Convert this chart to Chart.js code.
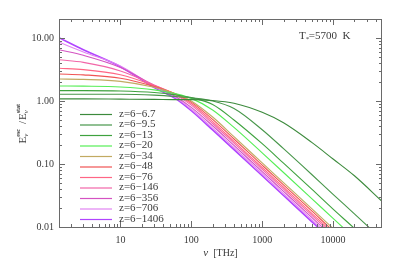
<!DOCTYPE html>
<html>
<head>
<meta charset="utf-8">
<script src="https://cdn.jsdelivr.net/npm/chart.js@4.4.1/dist/chart.umd.min.js"></script>
<style>
  html, body { margin: 0; padding: 0; background: #fff; }
  #wrap { width: 399px; height: 266px; position: relative; }
</style>
</head>
<body>
<div id="wrap"><canvas id="sed"></canvas></div>
<script>
// frequencies in THz (sample points)
const freq = [1.36, 3, 10, 30, 60, 100, 200, 400, 1000, 2000, 5000, 10000, 20000, 50000];

// E_esc / E_stat, one list per redshift range
const z6_7   = [1.08, 1.08, 1.07, 1.06, 1.05, 1.05, 1.02, 0.92, 0.66, 0.45, 0.22, 0.12, 0.065, 0.025];
const z9_5   = [1.28, 1.28, 1.28, 1.24, 1.18, 1.12, 1.0, 0.76, 0.35, 0.175, 0.0681, 0.0329, 0.0162, 0.0062];
const z13    = [1.46, 1.46, 1.44, 1.36, 1.25, 1.13, 0.88, 0.5, 0.21, 0.103, 0.0398, 0.0192, 0.0095, 0.0036];
const z20    = [1.73, 1.72, 1.67, 1.5, 1.3, 1.1, 0.72, 0.38, 0.15, 0.0733, 0.0283, 0.0137, 0.0067, 0.0026];
const z34    = [2.23, 2.2, 2.05, 1.65, 1.3, 1.0, 0.556, 0.271, 0.104, 0.0507, 0.0196, 0.0095, 0.0046, 0.0018];
const z48    = [2.68, 2.6, 2.3, 1.7, 1.3, 0.96, 0.511, 0.249, 0.0957, 0.0465, 0.018, 0.0087, 0.0043, 0.0016];
const z76    = [3.3, 3.15, 2.6, 1.75, 1.28, 0.91, 0.469, 0.228, 0.0879, 0.0427, 0.0165, 0.0080, 0.0039, 0.0015];
const z146   = [4.5, 4.1, 3.0, 1.8, 1.25, 0.86, 0.439, 0.214, 0.0822, 0.040, 0.0154, 0.0075, 0.0037, 0.0014];
const z356   = [6.5, 5.3, 3.4, 1.75, 1.18, 0.79, 0.404, 0.197, 0.0756, 0.0368, 0.0142, 0.0069, 0.0034, 0.0013];
const z706   = [8.6, 6.0, 3.6, 1.70, 1.13, 0.74, 0.371, 0.181, 0.070, 0.0338, 0.0131, 0.0063, 0.0031, 0.0012];
const z1406  = [10.1, 6.5, 3.5, 1.63, 1.09, 0.70, 0.347, 0.169, 0.065, 0.0316, 0.0122, 0.0059, 0.0029, 0.0011];

const labels = ["z=6\u22126.7", "z=6\u22129.5", "z=6\u221213", "z=6\u221220", "z=6\u221234", "z=6\u221248",
                "z=6\u221276", "z=6\u2212146", "z=6\u2212356", "z=6\u2212706", "z=6\u22121406"];
const series = [z6_7, z9_5, z13, z20, z34, z48, z76, z146, z356, z706, z1406];
const colors = ["#3c8a3c", "#47964a", "#3ea23e", "#55ee55", "#c2aa62", "#f05454",
                "#ff6685", "#f266a8", "#d452c2", "#e284f2", "#b044ff"];

const xTickLabels = ["10", "100", "1000", "10000"];
const yTickLabels = ["10.00", "1.00", "0.10", "0.01"];

const AXIS = "#6a6a6a";
const TXT = "#3a3a3a";
const FONT = "'Liberation Serif', serif";

var datasets = series.map(function(vals, i) {
  return {
    label: labels[i],
    data: freq.map(function(f, j) { return {x: f, y: vals[j]}; }),
    borderColor: colors[i],
    borderWidth: i == 10 ? 1.6 : 1.1,
    pointRadius: 0,
    fill: false,
    cubicInterpolationMode: 'monotone'
  };
});

// frame, inward ticks, labels, legend and titles
const decor = {
  id: 'decor',
  afterDraw(chart) {
    const ctx = chart.ctx;
    const a = chart.chartArea;
    const xs = chart.scales.x, ys = chart.scales.y;
    ctx.save();
    ctx.strokeStyle = AXIS;
    ctx.lineWidth = 1;
    ctx.strokeRect(a.left + 0.5, a.top + 0.5, a.right - a.left - 1, a.bottom - a.top);

    ctx.beginPath();
    for (var e = 0; e <= 4; e++) {
      for (var k = 1; k <= 9; k++) {
        var v = k * Math.pow(10, e);
        if (v < xs.min || v > xs.max) continue;
        var px = Math.round(xs.getPixelForValue(v)) + 0.5;
        var len = k == 1 ? 6 : 3;
        ctx.moveTo(px, a.bottom); ctx.lineTo(px, a.bottom - len);
        ctx.moveTo(px, a.top); ctx.lineTo(px, a.top + len);
      }
    }
    for (var e = -2; e <= 1; e++) {
      for (var k = 1; k <= 9; k++) {
        var v = k * Math.pow(10, e);
        if (v < ys.min - 1e-9 || v > ys.max) continue;
        var py = Math.round(ys.getPixelForValue(v)) + 0.5;
        var len = k == 1 ? 6 : 3;
        ctx.moveTo(a.left, py); ctx.lineTo(a.left + len, py);
        ctx.moveTo(a.right, py); ctx.lineTo(a.right - len, py);
      }
    }
    ctx.stroke();

    ctx.fillStyle = TXT;
    ctx.font = "10px " + FONT;
    ctx.textAlign = 'center';
    ctx.textBaseline = 'top';
    xTickLabels.forEach(function(t) {
      ctx.fillText(t, xs.getPixelForValue(parseFloat(t)), a.bottom + 8);
    });
    ctx.textAlign = 'right';
    ctx.textBaseline = 'middle';
    yTickLabels.forEach(function(t) {
      ctx.fillText(t, a.left - 5, ys.getPixelForValue(parseFloat(t)));
    });

    // x title
    ctx.textAlign = 'left';
    ctx.textBaseline = 'middle';
    ctx.font = "italic 11px " + FONT;
    var w1 = ctx.measureText("\u03bd").width;
    ctx.font = "10px " + FONT;
    var w2 = ctx.measureText("  [THz]").width;
    var cx = (a.left + a.right) / 2 - (w1 + w2) / 2;
    ctx.font = "italic 11px " + FONT;
    ctx.fillText("\u03bd", cx, 253);
    ctx.font = "10px " + FONT;
    ctx.fillText("  [THz]", cx + w1, 253);

    // y title, rotated
    ctx.save();
    ctx.translate(23, (a.top + a.bottom) / 2);
    ctx.rotate(-Math.PI / 2);
    var parts = [["E", "\u03bd", "esc"], [" /", null, null], ["E", "\u03bd", "stat"]];
    var total = 0;
    parts.forEach(function(p) {
      ctx.font = "11px " + FONT;
      var w = ctx.measureText(p[0]).width;
      ctx.font = "7px " + FONT;
      var ws = Math.max(p[1] ? ctx.measureText(p[1]).width : 0, p[2] ? ctx.measureText(p[2]).width : 0);
      p.push(w, ws);
      total += w + ws + 1;
    });
    var px0 = -total / 2;
    parts.forEach(function(p) {
      ctx.font = "11px " + FONT;
      ctx.fillText(p[0], px0, 0);
      if (p[1]) { ctx.font = "italic 7px " + FONT; ctx.fillText(p[1], px0 + p[3], 3); }
      if (p[2]) { ctx.font = "bold 6px " + FONT; ctx.fillText(p[2], px0 + p[3], -5); }
      px0 += p[3] + p[4] + 1;
    });
    ctx.restore();

    // star temperature
    ctx.font = "11px " + FONT;
    ctx.textBaseline = 'middle';
    ctx.fillText("T", 299, 36);
    var tw = ctx.measureText("T").width;
    ctx.font = "7px " + FONT;
    ctx.fillText("*", 299 + tw, 39);
    ctx.font = "11px " + FONT;
    ctx.fillText("=5700  K", 299 + tw + 3, 36);

    // legend
    ctx.font = "11px " + FONT;
    chart.data.datasets.forEach(function(ds, i) {
      var y = 114 + i * 10.5;
      ctx.strokeStyle = ds.borderColor;
      ctx.lineWidth = 1.2;
      ctx.beginPath();
      ctx.moveTo(80, y + 0.5); ctx.lineTo(112, y + 0.5);
      ctx.stroke();
      ctx.fillStyle = TXT;
      ctx.fillText(ds.label, 119, y);
    });
    ctx.restore();
  }
};

new Chart(document.getElementById('sed'), {
  type: 'line',
  data: { datasets: datasets },
  options: {
    responsive: true,
    maintainAspectRatio: false,
    animation: false,
    layout: { padding: { top: 19, right: 17, left: 0, bottom: 0 } },
    plugins: { legend: { display: false }, tooltip: { enabled: false } },
    scales: {
      x: {
        type: 'logarithmic', min: 1.36, max: 49000,
        grid: { display: false }, border: { display: false },
        ticks: { display: false },
        afterFit: function(s) { s.height = 39; }
      },
      y: {
        type: 'logarithmic', min: 0.01, max: 20,
        grid: { display: false }, border: { display: false },
        ticks: { display: false },
        afterFit: function(s) { s.width = 59; }
      }
    }
  },
  plugins: [decor]
});
</script>
</body>
</html>
